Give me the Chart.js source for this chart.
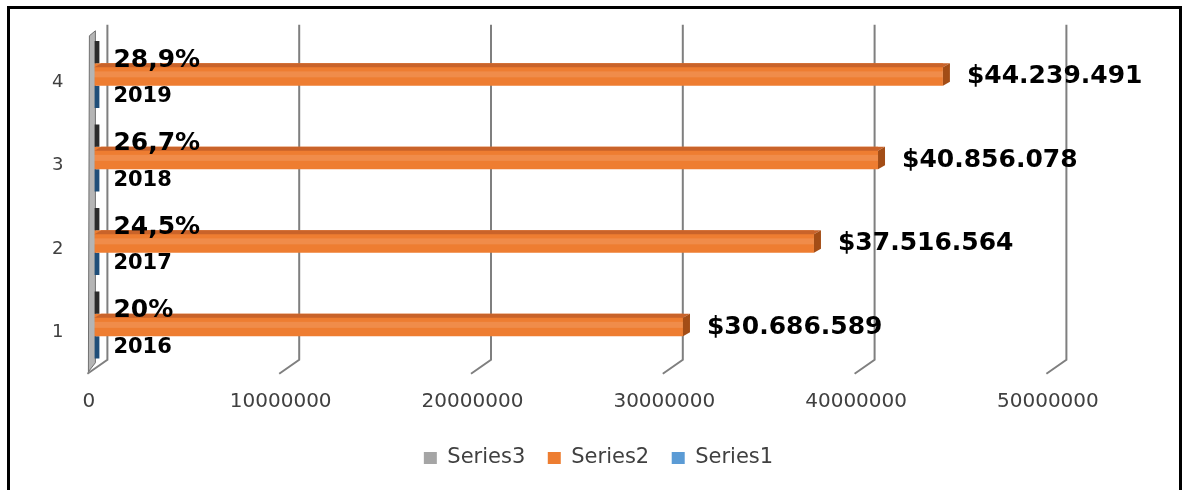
<!DOCTYPE html>
<html><head><meta charset="utf-8">
<script src="https://cdn.jsdelivr.net/npm/chart.js@4.4.1/dist/chart.umd.min.js"></script>
<style>
html,body{margin:0;padding:0;background:#fff;}
#wrap{position:relative;width:1182px;height:490px;overflow:hidden;background:#fff;}
canvas{position:absolute;left:0;top:0;}
#frame{position:absolute;left:7px;top:6px;width:1175px;height:600px;border:3px solid #000;box-sizing:border-box;pointer-events:none;}
</style></head><body>
<div id="wrap"><canvas id="c" width="1182" height="490"></canvas><div id="frame"></div></div>
<script>
// ---- data ----
const categories = ['1', '2', '3', '4'];
const series1 = [2016, 2017, 2018, 2019];
const series2 = [30686589, 37516564, 40856078, 44239491];
const series3 = [20, 24.5, 26.7, 28.9];
const seriesNames = ['Series3', 'Series2', 'Series1'];
const xMin = 0, xMax = 50000000, xStep = 10000000;

// ---- styles ----
const legendColors = ['#a5a5a5', '#ed7d31', '#5b9bd5'];
const barColors = ['#2b2b2b', '#ee7d31', '#1f4e79'];
const FONT = "'DejaVu Sans', sans-serif";

function fmtMoney(v) { return '$' + String(v).replace(/\B(?=(\d{3})+(?!\d))/g, '.'); }
function fmtPct(v) { return String(v).replace('.', ',') + '%'; }

const grid3d = {
  id: 'grid3d',
  beforeDatasetsDraw(chart) {
    const {ctx, chartArea: a, scales: {x}} = chart;
    ctx.save();
    ctx.strokeStyle = '#7f7f7f';
    ctx.lineWidth = 2;
    x.ticks.forEach(t => {
      const px = x.getPixelForValue(t.value);
      ctx.beginPath();
      ctx.moveTo(px + 13, a.top - 8);
      ctx.lineTo(px + 13, a.bottom - 7);
      ctx.lineTo(px - 7, a.bottom + 7);
      ctx.stroke();
    });
    // left wall slab
    const x0 = x.getPixelForValue(0);
    ctx.beginPath();
    ctx.moveTo(x0 - 5, a.top + 3);
    ctx.lineTo(x0 + 1, a.top - 2);
    ctx.lineTo(x0 + 1, a.bottom - 4);
    ctx.lineTo(x0 - 6, a.bottom + 5);
    ctx.closePath();
    ctx.fillStyle = '#b5b5b5';
    ctx.fill();
    ctx.lineWidth = 1;
    ctx.strokeStyle = '#6f6f6f';
    ctx.stroke();
    ctx.restore();
  }
};

const bar3d = {
  id: 'bar3d',
  afterDatasetsDraw(chart) {
    const {ctx} = chart;
    ctx.save();
    const meta = chart.getDatasetMeta(1);
    meta.data.forEach(el => {
      const p = el.getProps(['x', 'y', 'base', 'height'], true);
      const top = p.y - p.height / 2, bot = p.y + p.height / 2;
      ctx.beginPath();
      ctx.moveTo(p.base, top + 4);
      ctx.lineTo(p.x, top + 4);
      ctx.lineTo(p.x + 7, top);
      ctx.lineTo(p.base + 7, top);
      ctx.closePath();
      ctx.fillStyle = '#c9632a';
      ctx.fill();
      ctx.beginPath();
      ctx.moveTo(p.x, top + 4);
      ctx.lineTo(p.x + 7, top);
      ctx.lineTo(p.x + 7, bot - 4);
      ctx.lineTo(p.x, bot);
      ctx.closePath();
      ctx.fillStyle = '#a34d16';
      ctx.fill();
      ctx.fillStyle = 'rgba(255,255,255,0.12)';
      ctx.fillRect(p.base, top + 8, p.x - p.base, 6);
    });
    ctx.restore();
  }
};

const valueLabels = {
  id: 'valueLabels',
  afterDatasetsDraw(chart) {
    const {ctx} = chart;
    ctx.save();
    ctx.fillStyle = '#000';
    ctx.textAlign = 'left';
    ctx.textBaseline = 'middle';
    ctx.font = "bold 25px " + FONT;
    chart.getDatasetMeta(1).data.forEach((el, i) => {
      ctx.fillText(fmtMoney(series2[i]), el.x + 24, el.y + 2);
    });
    chart.getDatasetMeta(0).data.forEach((el, i) => {
      ctx.fillText(fmtPct(series3[i]), el.x + 14, el.y + 8);
    });
    ctx.font = "bold 21px " + FONT;
    chart.getDatasetMeta(2).data.forEach((el, i) => {
      ctx.fillText(String(series1[i]), el.x + 14, el.y);
    });
    ctx.restore();
  }
};

new Chart(document.getElementById('c'), {
  type: 'bar',
  data: {
    labels: categories,
    datasets: [
      {label: seriesNames[0], data: series3, backgroundColor: barColors[0], minBarLength: 5},
      {label: seriesNames[1], data: series2, backgroundColor: barColors[1]},
      {label: seriesNames[2], data: series1, backgroundColor: barColors[2], minBarLength: 5}
    ]
  },
  options: {
    indexAxis: 'y',
    responsive: false,
    animation: false,
    devicePixelRatio: 1,
    barPercentage: 1,
    categoryPercentage: 0.8,
    layout: {padding: {top: 32.75, left: 52, right: 37, bottom: 11.5}},
    scales: {
      x: {
        type: 'linear', min: xMin, max: xMax,
        grid: {display: false, drawTicks: false},
        border: {display: false},
        ticks: {stepSize: xStep, autoSkip: false, maxRotation: 0, padding: 22.75, labelOffset: -5.5,
          color: '#404040', font: {family: FONT, size: 20}, callback: v => String(v)},
        afterFit(s) { s.height = 58.25; }
      },
      y: {
        reverse: true,
        grid: {display: false, drawTicks: false},
        border: {display: false},
        ticks: {padding: 0, crossAlign: 'far', labelOffset: 7.5, color: '#404040', font: {family: FONT, size: 18}},
        afterFit(s) { s.width = 42.4; }
      },
      y2: {
        type: 'linear', position: 'right', display: true,
        grid: {display: false, drawTicks: false},
        border: {display: false},
        ticks: {display: false},
        afterFit(s) { s.width = 91.6; }
      }
    },
    plugins: {
      tooltip: {enabled: false},
      legend: {
        position: 'bottom',
        labels: {
          boxWidth: 13, boxHeight: 12, padding: 22.5, color: '#404040',
          font: {family: FONT, size: 21},
          generateLabels(chart) {
            const items = Chart.defaults.plugins.legend.labels.generateLabels(chart);
            items.forEach((it, i) => { it.fillStyle = legendColors[i]; it.strokeStyle = legendColors[i]; it.lineWidth = 0; });
            return items;
          }
        }
      }
    }
  },
  plugins: [grid3d, bar3d, valueLabels]
});
</script>
</body></html>
